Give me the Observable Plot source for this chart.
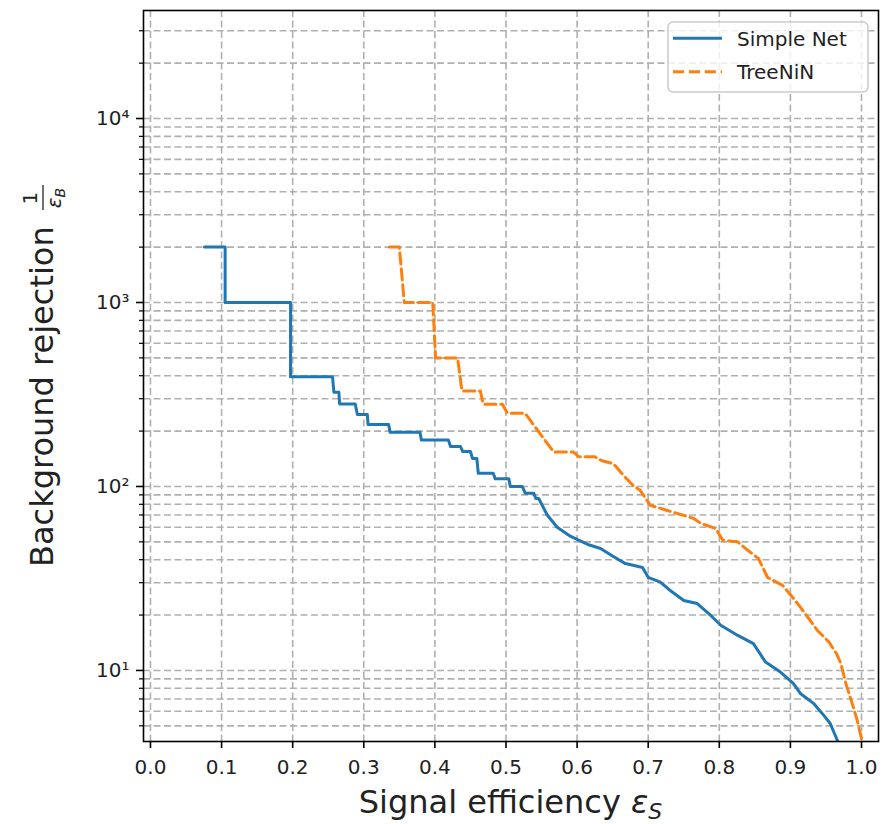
<!DOCTYPE html>
<html><head><meta charset="utf-8">
<script src="https://cdn.jsdelivr.net/npm/d3@7"></script>
<script src="https://cdn.jsdelivr.net/npm/@observablehq/plot@0.6"></script>
<style>
html,body{margin:0;padding:0;background:#fff;}
#chart{position:relative;width:883px;height:824px;}
</style></head><body><div id="chart"></div>
<script>
const seriesNames = ["Simple Net", "TreeNiN"];
const seriesColors = ["#1f77b4", "#ff7f0e"];

const simpleNetEff = [0.076,0.105,0.105,0.197,0.197,0.256,0.258,0.265,0.266,0.288,0.291,0.305,0.306,0.335,0.337,0.379,0.381,0.419,0.422,0.436,0.439,0.450,0.453,0.459,0.461,0.482,0.485,0.504,0.506,0.523,0.527,0.539,0.542,0.546,0.558,0.572,0.591,0.615,0.633,0.651,0.668,0.692,0.700,0.717,0.731,0.750,0.769,0.788,0.802,0.826,0.848,0.865,0.886,0.904,0.914,0.933,0.947,0.956,0.968];
const simpleNetRej = [2000,2000,1000,1000,395,395,325,325,281,281,246,246,217,217,197,197,179,179,165,165,155,155,142,142,118,118,110,110,100,100,92,92,86,86,70,60,53.5,48.4,46,41.6,38.1,36.3,32.1,30.2,27.2,24,23.1,19.9,17.6,15.5,14,11.1,9.8,8.5,7.5,6.6,5.7,5.15,4.0];

const treeNinEff = [0.336,0.350,0.357,0.397,0.401,0.432,0.438,0.464,0.468,0.495,0.502,0.527,0.537,0.567,0.595,0.602,0.625,0.635,0.651,0.668,0.679,0.689,0.703,0.727,0.743,0.764,0.774,0.795,0.805,0.826,0.840,0.855,0.868,0.876,0.889,0.903,0.914,0.926,0.938,0.954,0.965,0.971,0.978,0.987,0.994,1.001];
const treeNinRej = [2000,2000,1000,1000,500,500,330,330,280,280,250,250,221,154,154,145,145,138,133,112,101,95,79,74,71,67,63,59,51,50,45,40.6,32,30.8,29,25,22.1,19.1,16.5,14.3,12.3,10.9,8.5,6.6,5.35,4.1];

const xTickValues = [0,0.1,0.2,0.3,0.4,0.5,0.6,0.7,0.8,0.9,1.0];
const xTickLabels = ["0.0","0.1","0.2","0.3","0.4","0.5","0.6","0.7","0.8","0.9","1.0"];
const yMajorTicks = [10,100,1000,10000];
const yMajorLabels = ["10¹","10²","10³","10⁴"];
const yMinorTicks = [5,6,7,8,9,20,30,40,50,60,70,80,90,200,300,400,500,600,700,800,900,2000,3000,4000,5000,6000,7000,8000,9000,20000,30000];

const simpleData = simpleNetEff.map((e,i)=>({series:seriesNames[0], eff:e, rej:simpleNetRej[i]}));
const treeData = treeNinEff.map((e,i)=>({series:seriesNames[1], eff:e, rej:treeNinRej[i]}));

const gridStyle = {stroke:"#b0b0b0", strokeWidth:1.6, strokeDasharray:"7,3.5"};
const textColor = "#222";

const plot = Plot.plot({
  width: 883, height: 824,
  marginLeft: 143, marginRight: 5, marginTop: 10, marginBottom: 83,
  style: {fontFamily: "'DejaVu Sans', sans-serif", fontSize: "20px", color: textColor, background: "#fff", overflow: "visible"},
  x: {domain: [-0.0098, 1.0239]},
  y: {type: "log", domain: [4.11, 38650]},
  marks: [
    Plot.ruleY([...yMinorTicks, ...yMajorTicks], gridStyle),
    Plot.ruleX(xTickValues, gridStyle),
    Plot.line(simpleData, {x:"eff", y:"rej", stroke:seriesColors[0], strokeWidth:3, clip:true, strokeLinejoin:"round"}),
    Plot.line(treeData, {x:"eff", y:"rej", stroke:seriesColors[1], strokeWidth:3, strokeDasharray:"11.1,4.8", clip:true, strokeLinejoin:"round"}),
    Plot.axisX({ticks: xTickValues, tickFormat: d => xTickLabels[xTickValues.indexOf(d)], tickSize: 7, tickPadding: 11, stroke: "#000", strokeWidth: 1.6, fontSize: 20, label: null}),
    Plot.axisY({ticks: yMajorTicks, tickFormat: d => yMajorLabels[yMajorTicks.indexOf(d)], tickSize: 7, tickPadding: 7, stroke: "#000", strokeWidth: 1.6, fontSize: 20, label: null}),
    Plot.axisY({ticks: yMinorTicks, tickFormat: () => "", tickSize: 4, stroke: "#000", strokeWidth: 1.2, label: null}),
    Plot.frame({stroke: "#000", strokeWidth: 1.6})
  ]
});

const svg = d3.select(plot);
// X label
const xl = svg.append("text").attr("x", (143 + 878) / 2).attr("y", 813)
  .attr("text-anchor", "middle").attr("font-size", 32).attr("fill", textColor);
xl.append("tspan").text("Signal efficiency ");
xl.append("tspan").attr("font-style", "italic").text("ε");
xl.append("tspan").attr("font-style", "italic").attr("font-size", 22).attr("dy", 6).text("S");

// Y label
const g = svg.append("g").attr("transform", "translate(53,375) rotate(-90)").attr("fill", textColor);
g.append("text").attr("x", -192).attr("y", 0).attr("text-anchor", "start").attr("font-size", 32).text("Background rejection");
g.append("text").attr("x", 177).attr("y", -16).attr("text-anchor", "middle").attr("font-size", 20).text("1");
g.append("line").attr("x1", 165).attr("x2", 190).attr("y1", -10).attr("y2", -10).attr("stroke", textColor).attr("stroke-width", 1.3);
const den = g.append("text").attr("x", 177).attr("y", 8).attr("text-anchor", "middle").attr("font-size", 20);
den.append("tspan").attr("font-style", "italic").text("ε");
den.append("tspan").attr("font-style", "italic").attr("font-size", 14).attr("dy", 4).text("B");

// Legend
const lg = svg.append("g");
lg.append("rect").attr("x", 668).attr("y", 22).attr("width", 200).attr("height", 70).attr("rx", 5)
  .attr("fill", "#fff").attr("fill-opacity", 0.8).attr("stroke", "#cccccc").attr("stroke-width", 1.6);
seriesNames.forEach((name, i) => {
  const yy = 38.3 + i * 33.4;
  lg.append("line").attr("x1", 673).attr("x2", 722).attr("y1", yy).attr("y2", yy)
    .attr("stroke", seriesColors[i]).attr("stroke-width", 3)
    .attr("stroke-dasharray", i === 1 ? "11.1,4.8" : null);
  lg.append("text").attr("x", 737).attr("y", yy + 7.5).attr("text-anchor", "start").attr("font-size", 20).attr("fill", textColor).text(name);
});

document.getElementById("chart").appendChild(plot);
</script>
</body></html>
